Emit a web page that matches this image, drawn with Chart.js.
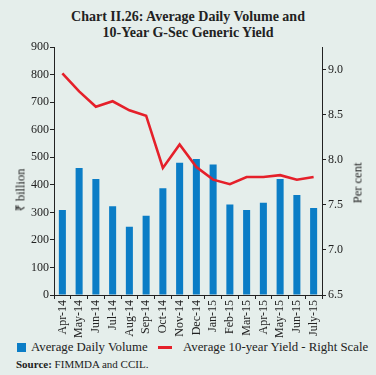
<!DOCTYPE html>
<html>
<head>
<meta charset="utf-8">
<script src="https://cdn.jsdelivr.net/npm/chart.js@4.4.0/dist/chart.umd.min.js"></script>
<style>
  html, body { margin:0; padding:0; }
  body { width:376px; height:375px; background:#e5eeeb; position:relative; overflow:hidden;
         font-family:"Liberation Serif", serif; color:#222; }
  #title { position:absolute; top:9px; left:0; width:376px; text-align:center;
           font-weight:bold; font-size:14px; line-height:16px; }
  #wrap { position:absolute; left:0; top:38px; width:376px; height:302px; }
  .ytitle { position:absolute; font-size:12.5px; white-space:nowrap; transform:translate(-50%,-50%) rotate(-90deg); }
  #legend { position:absolute; top:340px; left:0; width:376px; height:14px; font-size:12.8px; }
  #legend .box { position:absolute; left:17px; top:3px; width:9px; height:9px; background:#0b7dc6; }
  #legend .ln { position:absolute; left:158px; top:6px; width:14px; height:3px; background:#e5202a; }
  #legend span { position:absolute; top:0; line-height:14px; white-space:nowrap; }
  #source { position:absolute; left:16px; top:357px; font-size:11px; line-height:14px; }
</style>
</head>
<body>
<div id="title">Chart II.26: Average Daily Volume and<br>10-Year G-Sec Generic Yield</div>
<div id="wrap"><canvas id="chart"></canvas></div>
<div class="ytitle" style="left:20px; top:190px;">₹ billion</div>
<div class="ytitle" style="left:358px; top:183px;">Per cent</div>
<div id="legend">
  <div class="box"></div><span style="left:31px;">Average Daily Volume</span>
  <div class="ln"></div><span style="left:183px;">Average 10-year Yield - Right Scale</span>
</div>
<div id="source"><b>Source:</b> FIMMDA and CCIL.</div>
<script>
const months = ["Apr-14","May-14","Jun-14","Jul-14","Aug-14","Sep-14","Oct-14","Nov-14",
                "Dec-14","Jan-15","Feb-15","Mar-15","Apr-15","May-15","Jun-15","July-15"];
// average daily volume, ₹ billion
const volume = [309, 461, 421, 322, 248, 288, 388, 480, 494, 474, 329, 309, 335, 421, 363, 316];
// average 10-year yield, per cent
const yieldPct = [8.96, 8.76, 8.59, 8.65, 8.55, 8.49, 7.91, 8.17, 7.92, 7.78, 7.73, 7.81, 7.81, 7.83, 7.78, 7.81];
const rightTicks = [6.5, 7.0, 7.5, 8.0, 8.5, 9.0];

const tickFont = { family: "Liberation Serif", size: 12 };
const ink = "#222";

new Chart(document.getElementById("chart"), {
  type: "bar",
  data: {
    labels: months,
    datasets: [
      { type: "line", label: "Average 10-year Yield - Right Scale", data: yieldPct, yAxisID: "y1",
        borderColor: "#e5202a", borderWidth: 2.6, pointRadius: 0, tension: 0, order: 0 },
      { type: "bar", label: "Average Daily Volume", data: volume, yAxisID: "y",
        backgroundColor: "#0b7dc6", barPercentage: 0.42, categoryPercentage: 1, order: 1 }
    ]
  },
  options: {
    responsive: true, maintainAspectRatio: false, animation: false,
    layout: { padding: { top: 6, left: 0, right: 0, bottom: 0 } },
    plugins: { legend: { display: false }, tooltip: { enabled: false } },
    scales: {
      x: {
        grid: { display: true, drawOnChartArea: false, drawTicks: true, tickLength: 4, color: ink, offset: true },
        border: { color: ink, width: 1 },
        ticks: { color: ink, font: tickFont, minRotation: 90, maxRotation: 90, padding: 1, autoSkip: false },
        afterFit: s => { s.height = 45; }
      },
      y: {
        position: "left", min: 0, max: 900,
        grid: { display: true, drawOnChartArea: false, tickLength: 4, color: ink },
        border: { color: ink, width: 1 },
        ticks: { stepSize: 100, color: ink, font: tickFont, padding: 1 },
        afterFit: s => { s.width = 54; }
      },
      y1: {
        position: "right", min: 6.5, max: 9.25,
        grid: { display: true, drawOnChartArea: false, tickLength: 4, color: ink },
        border: { color: ink, width: 1 },
        ticks: { color: ink, font: tickFont, padding: 2, callback: v => v.toFixed(1) },
        afterBuildTicks: s => { s.ticks = rightTicks.map(v => ({ value: v })); },
        afterFit: s => { s.width = 54; }
      }
    }
  }
});
</script>
</body>
</html>
